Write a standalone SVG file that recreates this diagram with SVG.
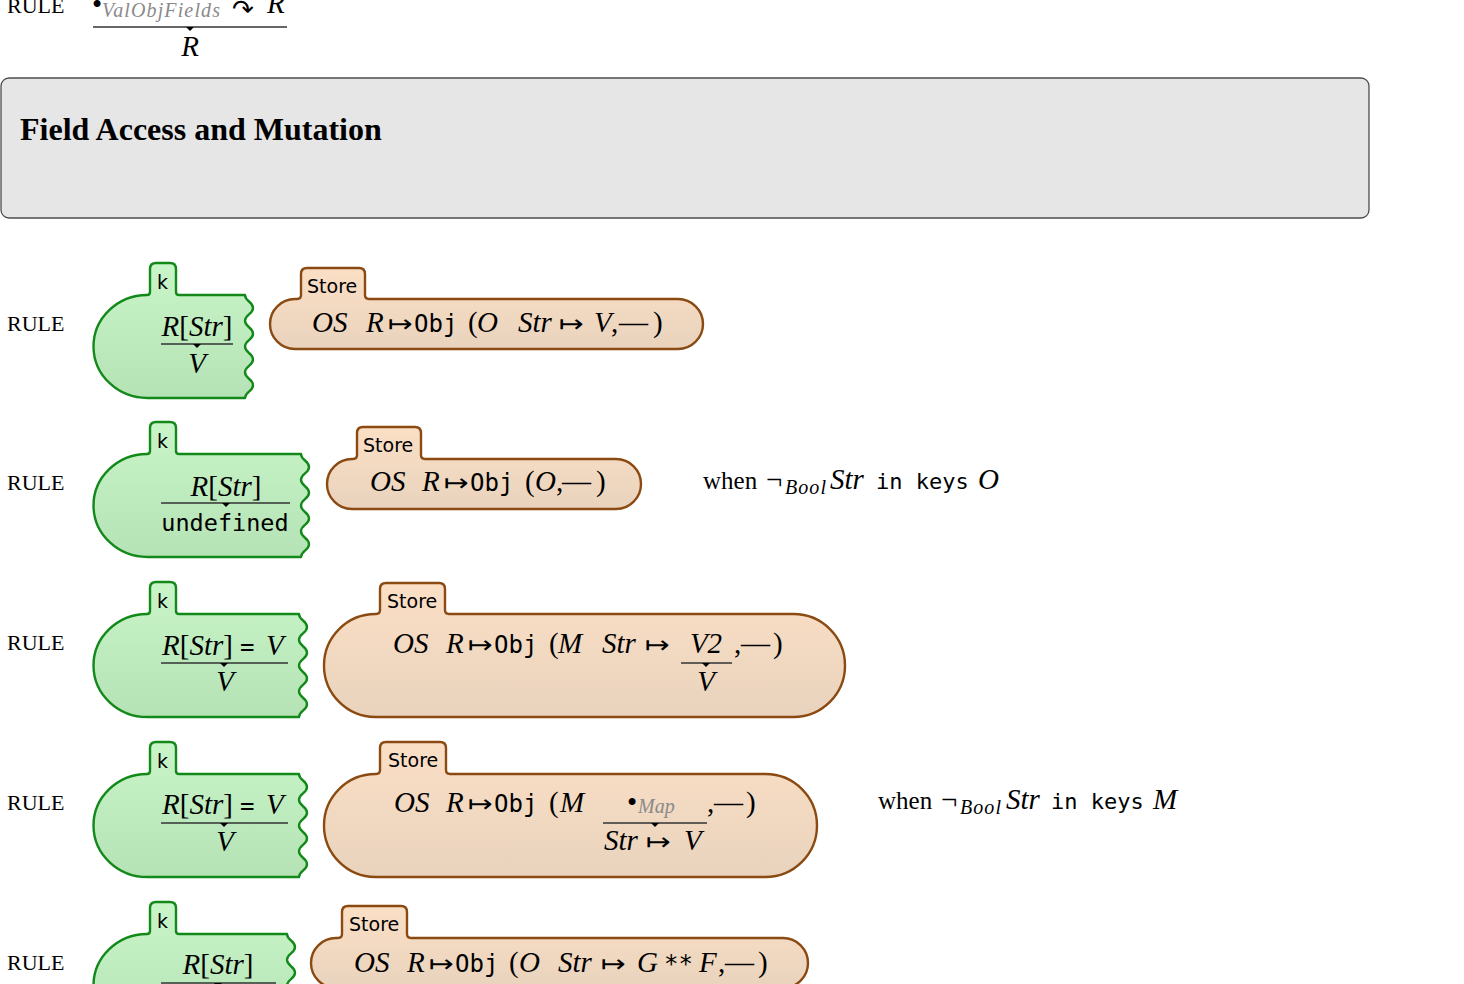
<svg xmlns="http://www.w3.org/2000/svg" xmlns:xlink="http://www.w3.org/1999/xlink" width="1464" height="984" viewBox="0 0 1464 984">
  <style>
    .rule{font-family:"Liberation Serif",serif;font-size:22px;fill:#000}
    .m{font-family:"Liberation Serif",serif;font-style:italic;font-size:29px;fill:#000}
    .rm{font-style:normal}
    .tt{font-family:"DejaVu Sans Mono",monospace;font-size:24px;font-style:normal;fill:#000}
    .sym{font-family:"DejaVu Sans",sans-serif;font-size:24px;font-style:normal;fill:#000}
    .lbl{font-family:"DejaVu Sans",sans-serif;font-size:19px;fill:#000}
    .side{font-family:"Liberation Serif",serif;font-size:25px;fill:#000}
    .sub{font-size:20px}
    .grey{fill:#8a8a8a}
    .kcell{fill:url(#gk);stroke:#13891a;stroke-width:2.4;stroke-linejoin:round}
    .store{fill:url(#gs);stroke:#8a4a12;stroke-width:2.4;stroke-linejoin:round}
    .frac{stroke:#333;stroke-width:1.3}
    .title{font-family:"Liberation Serif",serif;font-weight:bold;font-size:32px;fill:#000}
  </style>
  <defs>
    <linearGradient id="gk" x1="0" y1="0" x2="0" y2="1">
      <stop offset="0" stop-color="#c9f5c9"/>
      <stop offset="1" stop-color="#b5e3b5"/>
    </linearGradient>
    <linearGradient id="gs" x1="0" y1="0" x2="0" y2="1">
      <stop offset="0" stop-color="#fbdfc5"/>
      <stop offset="1" stop-color="#e9d3bd"/>
    </linearGradient>
    <!-- little marker under each fraction bar -->
    <path id="tri" d="M-4 0 L4 0 L0 4 Z" fill="#000"/>
  </defs>
  <rect width="1464" height="984" fill="#fff"/>

  <!-- rule continued from the previous section -->
  <g id="rule-valobjfields">
    <text class="rule" x="7" y="13">RULE</text>
    <text class="m rm" x="92" y="14">•</text>
    <text class="m grey sub" x="102" y="17" textLength="118">ValObjFields</text>
    <text class="sym" x="232" y="18" style="font-size:26px">↷</text>
    <text class="m" x="267" y="13">R</text>
    <line class="frac" x1="93" y1="27" x2="287" y2="27"/>
    <use xlink:href="#tri" x="190" y="27"/>
    <text class="m" x="190" y="56" text-anchor="middle">R</text>
  </g>

  <!-- section header -->
  <g id="section-header">
    <rect x="1" y="78" width="1368" height="140" rx="8" fill="#e6e6e6" stroke="#4d4d4d" stroke-width="1.3"/>
    <text class="title" x="20" y="140">Field Access and Mutation</text>
  </g>

  <!-- rule 1: field lookup -->
  <g id="rule-lookup">
    <text class="rule" x="7" y="331">RULE</text>
    <g id="rule-lookup-k">
      <path class="kcell" d="M148 398 A54 51.5 0 0 1 147 295 Q150 295 150 292 L150 269 Q150 263 156 263 L170 263 Q176 263 176 269 L176 292 Q176 295 179 295 L245 295 c0 6.44 8 6.44 8 12.875 c0 6.44 -8 6.44 -8 12.875 c0 6.44 8 6.44 8 12.875 c0 6.44 -8 6.44 -8 12.875 c0 6.44 8 6.44 8 12.875 c0 6.44 -8 6.44 -8 12.875 c0 6.44 8 6.44 8 12.875 c0 6.44 -8 6.44 -8 12.875 Z"/>
      <text class="lbl" x="157" y="289">k</text>
      <text class="m" x="197" y="336" text-anchor="middle">R<tspan class="rm">[</tspan>Str<tspan class="rm">]</tspan></text>
      <line class="frac" x1="161" y1="344" x2="233" y2="344"/>
      <use xlink:href="#tri" x="197" y="344"/>
      <text class="m" x="197" y="373" text-anchor="middle">V</text>
    </g>
    <g id="rule-lookup-store">
      <path class="store" d="M295 349 A25 25 0 0 1 295 299 L297 299 Q301 299 301 295 L301 274 Q301 268 307 268 L359 268 Q365 268 365 274 L365 295 Q365 299 369 299 L678 299 A25 25 0 0 1 678 349 Z"/>
      <text class="lbl" x="307" y="293">Store</text>
      <text class="m" x="312" y="332">OS</text>
      <text class="m" x="366" y="332">R</text>
      <text class="sym" x="388" y="332" textLength="25" lengthAdjust="spacingAndGlyphs">↦</text>
      <text class="tt" x="414" y="332">Obj</text>
      <text class="m rm" x="468" y="332">(</text>
      <text class="m" x="477" y="332">O</text>
      <text class="m" x="518" y="332">Str</text>
      <text class="sym" x="559" y="332" textLength="25" lengthAdjust="spacingAndGlyphs">↦</text>
      <text class="m" x="594" y="332">V</text>
      <text class="m rm" x="611" y="332">,</text>
      <text class="m rm" x="619" y="332">—</text>
      <text class="m rm" x="653" y="332">)</text>
    </g>
  </g>

  <!-- rule 2: lookup of a missing field -->
  <g id="rule-lookup-missing">
    <text class="rule" x="7" y="490">RULE</text>
    <g id="rule-lookup-missing-k">
      <path class="kcell" d="M148 557 A54 51.5 0 0 1 147 454 Q150 454 150 451 L150 428 Q150 422 156 422 L170 422 Q176 422 176 428 L176 451 Q176 454 179 454 L301 454 c0 6.44 8 6.44 8 12.875 c0 6.44 -8 6.44 -8 12.875 c0 6.44 8 6.44 8 12.875 c0 6.44 -8 6.44 -8 12.875 c0 6.44 8 6.44 8 12.875 c0 6.44 -8 6.44 -8 12.875 c0 6.44 8 6.44 8 12.875 c0 6.44 -8 6.44 -8 12.875 Z"/>
      <text class="lbl" x="157" y="448">k</text>
      <text class="m" x="226" y="496" text-anchor="middle">R<tspan class="rm">[</tspan>Str<tspan class="rm">]</tspan></text>
      <line class="frac" x1="161" y1="503" x2="290" y2="503"/>
      <use xlink:href="#tri" x="226" y="503"/>
      <text class="tt" x="225" y="531" text-anchor="middle" style="font-size:23.5px">undefined</text>
    </g>
    <g id="rule-lookup-missing-store">
      <path class="store" d="M352 509 A25 25 0 0 1 352 459 L353 459 Q357 459 357 455 L357 433 Q357 427 363 427 L415 427 Q421 427 421 433 L421 455 Q421 459 425 459 L616 459 A25 25 0 0 1 616 509 Z"/>
      <text class="lbl" x="363" y="452">Store</text>
      <text class="m" x="370" y="491">OS</text>
      <text class="m" x="422" y="491">R</text>
      <text class="sym" x="444" y="491" textLength="25" lengthAdjust="spacingAndGlyphs">↦</text>
      <text class="tt" x="470" y="491">Obj</text>
      <text class="m rm" x="525" y="491">(</text>
      <text class="m" x="535" y="491">O</text>
      <text class="m rm" x="556" y="491">,</text>
      <text class="m rm" x="562" y="491">—</text>
      <text class="m rm" x="596" y="491">)</text>
    </g>
    <g id="rule-lookup-missing-side">
      <text class="side" x="703" y="489">when</text>
      <text class="side" x="766" y="489" style="font-size:29px">¬</text>
      <text class="m sub" x="785" y="494" textLength="41">Bool</text>
      <text class="m" x="830" y="489">Str</text>
      <text class="tt" x="876" y="489" style="font-size:22px">in keys</text>
      <text class="m" x="978" y="489">O</text>
    </g>
  </g>

  <!-- rule 3: assignment to an existing field -->
  <g id="rule-assign-existing">
    <text class="rule" x="7" y="650">RULE</text>
    <g id="rule-assign-existing-k">
      <path class="kcell" d="M148 717 A54 51.5 0 0 1 147 614 Q150 614 150 611 L150 588 Q150 582 156 582 L170 582 Q176 582 176 588 L176 611 Q176 614 179 614 L299 614 c0 6.44 8 6.44 8 12.875 c0 6.44 -8 6.44 -8 12.875 c0 6.44 8 6.44 8 12.875 c0 6.44 -8 6.44 -8 12.875 c0 6.44 8 6.44 8 12.875 c0 6.44 -8 6.44 -8 12.875 c0 6.44 8 6.44 8 12.875 c0 6.44 -8 6.44 -8 12.875 Z"/>
      <text class="lbl" x="157" y="608">k</text>
      <text class="m" x="162" y="655">R<tspan class="rm">[</tspan>Str<tspan class="rm">]</tspan></text>
      <text class="tt" x="240" y="655">=</text>
      <text class="m" x="266" y="655">V</text>
      <line class="frac" x1="161" y1="663" x2="288" y2="663"/>
      <use xlink:href="#tri" x="224" y="663"/>
      <text class="m" x="225" y="691" text-anchor="middle">V</text>
    </g>
    <g id="rule-assign-existing-store">
      <path class="store" d="M375.5 717 A51.5 51.5 0 0 1 375.5 614 L376 614 Q380 614 380 610 L380 589 Q380 583 386 583 L439 583 Q445 583 445 589 L445 610 Q445 614 449 614 L793.5 614 A51.5 51.5 0 0 1 793.5 717 Z"/>
      <text class="lbl" x="387" y="608">Store</text>
      <text class="m" x="393" y="653">OS</text>
      <text class="m" x="446" y="653">R</text>
      <text class="sym" x="468" y="653" textLength="25" lengthAdjust="spacingAndGlyphs">↦</text>
      <text class="tt" x="494" y="653">Obj</text>
      <text class="m rm" x="549" y="653">(</text>
      <text class="m" x="558" y="653">M</text>
      <text class="m" x="602" y="653">Str</text>
      <text class="sym" x="645" y="653" textLength="25" lengthAdjust="spacingAndGlyphs">↦</text>
      <text class="m" x="706" y="653" text-anchor="middle">V2</text>
      <line class="frac" x1="681" y1="663" x2="732" y2="663"/>
      <use xlink:href="#tri" x="706" y="663"/>
      <text class="m" x="706" y="691" text-anchor="middle">V</text>
      <text class="m rm" x="734" y="653">,</text>
      <text class="m rm" x="741" y="653">—</text>
      <text class="m rm" x="773" y="653">)</text>
    </g>
  </g>

  <!-- rule 4: assignment that adds a new field -->
  <g id="rule-assign-new">
    <text class="rule" x="7" y="810">RULE</text>
    <g id="rule-assign-new-k">
      <path class="kcell" d="M148 877 A54 51.5 0 0 1 147 774 Q150 774 150 771 L150 748 Q150 742 156 742 L170 742 Q176 742 176 748 L176 771 Q176 774 179 774 L299 774 c0 6.44 8 6.44 8 12.875 c0 6.44 -8 6.44 -8 12.875 c0 6.44 8 6.44 8 12.875 c0 6.44 -8 6.44 -8 12.875 c0 6.44 8 6.44 8 12.875 c0 6.44 -8 6.44 -8 12.875 c0 6.44 8 6.44 8 12.875 c0 6.44 -8 6.44 -8 12.875 Z"/>
      <text class="lbl" x="157" y="768">k</text>
      <text class="m" x="162" y="814">R<tspan class="rm">[</tspan>Str<tspan class="rm">]</tspan></text>
      <text class="tt" x="240" y="814">=</text>
      <text class="m" x="266" y="814">V</text>
      <line class="frac" x1="161" y1="823" x2="288" y2="823"/>
      <use xlink:href="#tri" x="224" y="823"/>
      <text class="m" x="225" y="851" text-anchor="middle">V</text>
    </g>
    <g id="rule-assign-new-store">
      <path class="store" d="M375.5 877 A51.5 51.5 0 0 1 375.5 774 L376 774 Q380 774 380 770 L380 748 Q380 742 386 742 L440 742 Q446 742 446 748 L446 770 Q446 774 450 774 L765.5 774 A51.5 51.5 0 0 1 765.5 877 Z"/>
      <text class="lbl" x="388" y="767">Store</text>
      <text class="m" x="394" y="812">OS</text>
      <text class="m" x="446" y="812">R</text>
      <text class="sym" x="468" y="812" textLength="25" lengthAdjust="spacingAndGlyphs">↦</text>
      <text class="tt" x="494" y="812">Obj</text>
      <text class="m rm" x="549" y="812">(</text>
      <text class="m" x="560" y="812">M</text>
      <text class="m rm" x="627" y="812">•</text>
      <text class="m grey sub" x="638" y="813">Map</text>
      <line class="frac" x1="603" y1="823" x2="707" y2="823"/>
      <use xlink:href="#tri" x="655" y="823"/>
      <text class="m" x="604" y="850">Str</text>
      <text class="sym" x="646" y="850" textLength="25" lengthAdjust="spacingAndGlyphs">↦</text>
      <text class="m" x="684" y="850">V</text>
      <text class="m rm" x="707" y="812">,</text>
      <text class="m rm" x="714" y="812">—</text>
      <text class="m rm" x="746" y="812">)</text>
    </g>
    <g id="rule-assign-new-side">
      <text class="side" x="878" y="809">when</text>
      <text class="side" x="941" y="809" style="font-size:29px">¬</text>
      <text class="m sub" x="960" y="814" textLength="41">Bool</text>
      <text class="m" x="1006" y="809">Str</text>
      <text class="tt" x="1051" y="809" style="font-size:22px">in keys</text>
      <text class="m" x="1153" y="809">M</text>
    </g>
  </g>

  <!-- rule 5: getter field lookup (continues below) -->
  <g id="rule-getter">
    <text class="rule" x="7" y="970">RULE</text>
    <g id="rule-getter-k">
      <path class="kcell" d="M148 1037 A54 51.5 0 0 1 147 934 Q150 934 150 931 L150 908 Q150 902 156 902 L170 902 Q176 902 176 908 L176 931 Q176 934 179 934 L287 934 c0 6.44 8 6.44 8 12.875 c0 6.44 -8 6.44 -8 12.875 c0 6.44 8 6.44 8 12.875 c0 6.44 -8 6.44 -8 12.875 c0 6.44 8 6.44 8 12.875 c0 6.44 -8 6.44 -8 12.875 c0 6.44 8 6.44 8 12.875 c0 6.44 -8 6.44 -8 12.875 Z"/>
      <text class="lbl" x="157" y="928">k</text>
      <text class="m" x="218" y="974" text-anchor="middle">R<tspan class="rm">[</tspan>Str<tspan class="rm">]</tspan></text>
      <line class="frac" x1="161" y1="983" x2="276" y2="983"/>
      <use xlink:href="#tri" x="218" y="983"/>
    </g>
    <g id="rule-getter-store">
      <path class="store" d="M336 988 A25 25 0 0 1 336 938 L338 938 Q342 938 342 934 L342 912 Q342 906 348 906 L401 906 Q407 906 407 912 L407 934 Q407 938 411 938 L783 938 A25 25 0 0 1 783 988 Z"/>
      <text class="lbl" x="349" y="931">Store</text>
      <text class="m" x="354" y="972">OS</text>
      <text class="m" x="407" y="972">R</text>
      <text class="sym" x="429" y="972" textLength="25" lengthAdjust="spacingAndGlyphs">↦</text>
      <text class="tt" x="455" y="972">Obj</text>
      <text class="m rm" x="509" y="972">(</text>
      <text class="m" x="519" y="972">O</text>
      <text class="m" x="558" y="972">Str</text>
      <text class="sym" x="601" y="972" textLength="25" lengthAdjust="spacingAndGlyphs">↦</text>
      <text class="m" x="637" y="972">G</text>
      <text class="tt" x="664" y="972">**</text>
      <text class="m" x="699" y="972">F</text>
      <text class="m rm" x="718" y="972">,</text>
      <text class="m rm" x="725" y="972">—</text>
      <text class="m rm" x="758" y="972">)</text>
    </g>
  </g>
</svg>
